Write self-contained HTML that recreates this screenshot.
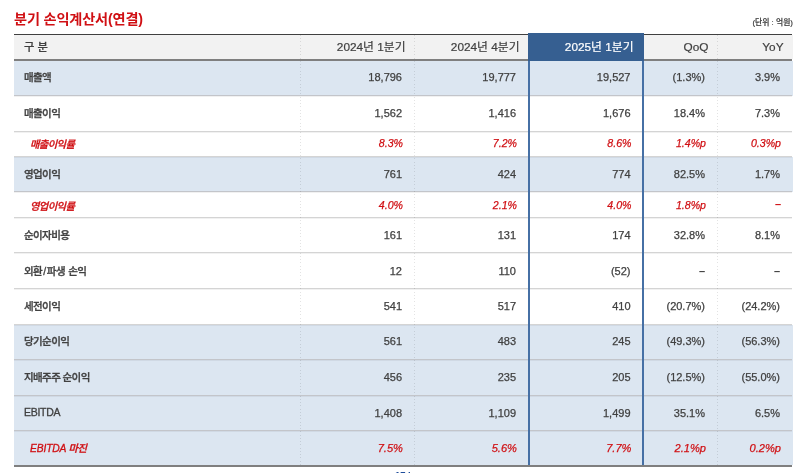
<!DOCTYPE html>
<html lang="ko"><head><meta charset="utf-8"><title>분기 손익계산서(연결)</title>
<style>
html,body{margin:0;padding:0;background:#fff;}
body{width:800px;height:473px;position:relative;overflow:hidden;font-family:"Liberation Sans","Noto Sans CJK KR",sans-serif;color:#404040;}
.abs{position:absolute;}
.title{left:14px;top:8.5px;font-size:14.2px;line-height:20px;font-weight:bold;color:#d01014;letter-spacing:-0.17px;white-space:nowrap;}
.unit{right:7px;top:17px;font-size:7.8px;line-height:12px;color:#404040;letter-spacing:0.02px;white-space:nowrap;font-weight:500;-webkit-text-stroke:0.2px currentColor;}
.row{left:14px;width:779px;}
.b{background:#dce6f1;}
.w{background:#fff;}
.hd{background:#f2f2f2;}
.cell{top:0;bottom:0;white-space:nowrap;font-size:11px;display:flex;align-items:center;justify-content:flex-end;box-sizing:border-box;padding-right:12px;-webkit-text-stroke:0.25px currentColor;}
.cell>span{position:relative;display:block;top:-1px;}
.row .cell>span.d{font-size:11px;top:-1px;font-style:normal;font-weight:bold;-webkit-text-stroke:0;}
.c3{padding-right:13.5px;}
.c0{justify-content:flex-start;padding-left:10px;padding-right:0;font-size:10.5px;letter-spacing:-0.6px;font-weight:500;-webkit-text-stroke:0.3px currentColor;}
.c0>span{top:-1.5px;}
.sl{font-style:normal;margin:0 1.2px;}
.en{font-style:inherit;letter-spacing:-0.3px;font-weight:normal;}
.i .en{letter-spacing:-0.15px;}
.r6 .c0{word-spacing:1px;}
.i{color:#d01014;font-style:italic;}
.i .c0{padding-left:16px;}
.i .cell{-webkit-text-stroke:0.25px currentColor;font-size:10.6px;padding-right:11px;}
.i .c3{padding-right:12.5px;}
.r11 .cell{font-size:11.1px;}
.i .c0{-webkit-text-stroke:0.3px currentColor;font-size:10.3px;padding-right:0;}
.i .cell>span{top:-0.5px;}
.i .c0>span{top:0;}
.row.r11 .c0>span{top:-1px;}
.hd .cell{font-size:11.8px;padding-right:8.5px;-webkit-text-stroke:0.2px currentColor;}
.hd .cell>span{top:-2px;}
.hd .cell>span.lat{top:0;}
.hd .c0{font-size:11.3px;padding-left:10px;letter-spacing:0;}
.hd .c0>span{top:-1px;}
.vl{top:35px;width:1px;height:430px;background:repeating-linear-gradient(to bottom,rgba(0,0,0,0.11) 0,rgba(0,0,0,0.11) 1px,rgba(0,0,0,0) 1px,rgba(0,0,0,0) 3.25px);}
.line{left:14px;width:778px;height:1px;background:rgba(0,0,0,0.15);}
.hl{background:#365f91;}
.hlh{left:528px;top:33px;width:116px;height:28px;display:flex;align-items:center;justify-content:flex-end;box-sizing:border-box;padding-right:10.5px;font-size:11.8px;color:#fff;white-space:nowrap;-webkit-text-stroke:0.2px currentColor;}
.hlh span{position:relative;display:block;top:-1.5px;}
.foot{left:395px;top:468.5px;font-size:9.5px;line-height:12px;color:#1f4e9c;font-weight:bold;white-space:nowrap;}
.foot i{font-style:normal;margin-left:2.4px;}
</style></head><body>
<div class="abs title">분기 손익계산서(연결)</div>
<div class="abs unit">(단위 : 억원)</div>
<div class="abs row hd" style="top:35px;height:24px"><div class="abs cell c0" style="left:0;width:286px"><span>구 분</span></div><div class="abs cell c1" style="left:286px;width:114px"><span>2024년 1분기</span></div><div class="abs cell c2" style="left:400px;width:114px"><span>2024년 4분기</span></div><div class="abs cell c3" style="left:514px;width:116px"><span class="lat"></span></div><div class="abs cell c4" style="left:630px;width:73px"><span class="lat">QoQ</span></div><div class="abs cell c5" style="left:703px;width:75px"><span class="lat">YoY</span></div></div>
<div class="abs row b" style="top:61px;height:35px"></div>
<div class="abs row w" style="top:96px;height:36px"></div>
<div class="abs row w" style="top:132px;height:25px"></div>
<div class="abs row b" style="top:157px;height:35px"></div>
<div class="abs row w" style="top:192px;height:26px"></div>
<div class="abs row w" style="top:218px;height:35px"></div>
<div class="abs row w" style="top:253px;height:36px"></div>
<div class="abs row w" style="top:289px;height:36px"></div>
<div class="abs row b" style="top:325px;height:35px"></div>
<div class="abs row b" style="top:360px;height:36px"></div>
<div class="abs row b" style="top:396px;height:35px"></div>
<div class="abs row b" style="top:431px;height:34px"></div>
<div class="abs line" style="top:95px;background:#c3c5ca;box-shadow:0 1px 0 rgba(60,60,60,0.07)"></div>
<div class="abs line" style="top:131px;background:#d4d4d4;box-shadow:0 1px 0 rgba(60,60,60,0.07)"></div>
<div class="abs line" style="top:156px;background:#d4d4d4;box-shadow:0 1px 0 rgba(60,60,60,0.07)"></div>
<div class="abs line" style="top:191px;background:#c3c5ca;box-shadow:0 1px 0 rgba(60,60,60,0.07)"></div>
<div class="abs line" style="top:217px;background:#d4d4d4;box-shadow:0 1px 0 rgba(60,60,60,0.07)"></div>
<div class="abs line" style="top:252px;background:#d4d4d4;box-shadow:0 1px 0 rgba(60,60,60,0.07)"></div>
<div class="abs line" style="top:288px;background:#d4d4d4;box-shadow:0 1px 0 rgba(60,60,60,0.07)"></div>
<div class="abs line" style="top:324px;background:#d4d4d4;box-shadow:0 1px 0 rgba(60,60,60,0.07)"></div>
<div class="abs line" style="top:359px;background:#c3c5ca;box-shadow:0 1px 0 rgba(60,60,60,0.07)"></div>
<div class="abs line" style="top:395px;background:#c3c5ca;box-shadow:0 1px 0 rgba(60,60,60,0.07)"></div>
<div class="abs line" style="top:430px;background:#c3c5ca;box-shadow:0 1px 0 rgba(60,60,60,0.07)"></div>
<div class="abs vl" style="left:300px"></div>
<div class="abs vl" style="left:414px"></div>
<div class="abs vl" style="left:717px"></div>
<div class="abs row r0" style="top:61px;height:34px"><div class="abs cell c0" style="left:0;width:286px"><span>매출액</span></div><div class="abs cell c1" style="left:286px;width:114px"><span>18,796</span></div><div class="abs cell c2" style="left:400px;width:114px"><span>19,777</span></div><div class="abs cell c3" style="left:514px;width:116px"><span>19,527</span></div><div class="abs cell c4" style="left:630px;width:73px"><span>(1.3%)</span></div><div class="abs cell c5" style="left:703px;width:75px"><span>3.9%</span></div></div>
<div class="abs row r1" style="top:96px;height:35px"><div class="abs cell c0" style="left:0;width:286px"><span>매출이익</span></div><div class="abs cell c1" style="left:286px;width:114px"><span>1,562</span></div><div class="abs cell c2" style="left:400px;width:114px"><span>1,416</span></div><div class="abs cell c3" style="left:514px;width:116px"><span>1,676</span></div><div class="abs cell c4" style="left:630px;width:73px"><span>18.4%</span></div><div class="abs cell c5" style="left:703px;width:75px"><span>7.3%</span></div></div>
<div class="abs row i r2" style="top:131px;height:24px"><div class="abs cell c0" style="left:0;width:286px"><span>매출이익률</span></div><div class="abs cell c1" style="left:286px;width:114px"><span>8.3%</span></div><div class="abs cell c2" style="left:400px;width:114px"><span>7.2%</span></div><div class="abs cell c3" style="left:514px;width:116px"><span>8.6%</span></div><div class="abs cell c4" style="left:630px;width:73px"><span>1.4%p</span></div><div class="abs cell c5" style="left:703px;width:75px"><span>0.3%p</span></div></div>
<div class="abs row r3" style="top:157.5px;height:34px"><div class="abs cell c0" style="left:0;width:286px"><span>영업이익</span></div><div class="abs cell c1" style="left:286px;width:114px"><span>761</span></div><div class="abs cell c2" style="left:400px;width:114px"><span>424</span></div><div class="abs cell c3" style="left:514px;width:116px"><span>774</span></div><div class="abs cell c4" style="left:630px;width:73px"><span>82.5%</span></div><div class="abs cell c5" style="left:703px;width:75px"><span>1.7%</span></div></div>
<div class="abs row i r4" style="top:192.5px;height:25px"><div class="abs cell c0" style="left:0;width:286px"><span>영업이익률</span></div><div class="abs cell c1" style="left:286px;width:114px"><span>4.0%</span></div><div class="abs cell c2" style="left:400px;width:114px"><span>2.1%</span></div><div class="abs cell c3" style="left:514px;width:116px"><span>4.0%</span></div><div class="abs cell c4" style="left:630px;width:73px"><span>1.8%p</span></div><div class="abs cell c5" style="left:703px;width:75px"><span class="d">–</span></div></div>
<div class="abs row r5" style="top:218.5px;height:34px"><div class="abs cell c0" style="left:0;width:286px"><span>순이자비용</span></div><div class="abs cell c1" style="left:286px;width:114px"><span>161</span></div><div class="abs cell c2" style="left:400px;width:114px"><span>131</span></div><div class="abs cell c3" style="left:514px;width:116px"><span>174</span></div><div class="abs cell c4" style="left:630px;width:73px"><span>32.8%</span></div><div class="abs cell c5" style="left:703px;width:75px"><span>8.1%</span></div></div>
<div class="abs row r6" style="top:254px;height:35px"><div class="abs cell c0" style="left:0;width:286px"><span>외환<i class="sl">/</i>파생 손익</span></div><div class="abs cell c1" style="left:286px;width:114px"><span>12</span></div><div class="abs cell c2" style="left:400px;width:114px"><span>110</span></div><div class="abs cell c3" style="left:514px;width:116px"><span>(52)</span></div><div class="abs cell c4" style="left:630px;width:73px"><span class="d">–</span></div><div class="abs cell c5" style="left:703px;width:75px"><span class="d">–</span></div></div>
<div class="abs row r7" style="top:289.5px;height:35px"><div class="abs cell c0" style="left:0;width:286px"><span>세전이익</span></div><div class="abs cell c1" style="left:286px;width:114px"><span>541</span></div><div class="abs cell c2" style="left:400px;width:114px"><span>517</span></div><div class="abs cell c3" style="left:514px;width:116px"><span>410</span></div><div class="abs cell c4" style="left:630px;width:73px"><span>(20.7%)</span></div><div class="abs cell c5" style="left:703px;width:75px"><span>(24.2%)</span></div></div>
<div class="abs row r8" style="top:324.5px;height:34px"><div class="abs cell c0" style="left:0;width:286px"><span>당기순이익</span></div><div class="abs cell c1" style="left:286px;width:114px"><span>561</span></div><div class="abs cell c2" style="left:400px;width:114px"><span>483</span></div><div class="abs cell c3" style="left:514px;width:116px"><span>245</span></div><div class="abs cell c4" style="left:630px;width:73px"><span>(49.3%)</span></div><div class="abs cell c5" style="left:703px;width:75px"><span>(56.3%)</span></div></div>
<div class="abs row r9" style="top:360px;height:35px"><div class="abs cell c0" style="left:0;width:286px"><span>지배주주 순이익</span></div><div class="abs cell c1" style="left:286px;width:114px"><span>456</span></div><div class="abs cell c2" style="left:400px;width:114px"><span>235</span></div><div class="abs cell c3" style="left:514px;width:116px"><span>205</span></div><div class="abs cell c4" style="left:630px;width:73px"><span>(12.5%)</span></div><div class="abs cell c5" style="left:703px;width:75px"><span>(55.0%)</span></div></div>
<div class="abs row r10" style="top:396.5px;height:34px"><div class="abs cell c0" style="left:0;width:286px"><span><i class="en">EBITDA</i></span></div><div class="abs cell c1" style="left:286px;width:114px"><span>1,408</span></div><div class="abs cell c2" style="left:400px;width:114px"><span>1,109</span></div><div class="abs cell c3" style="left:514px;width:116px"><span>1,499</span></div><div class="abs cell c4" style="left:630px;width:73px"><span>35.1%</span></div><div class="abs cell c5" style="left:703px;width:75px"><span>6.5%</span></div></div>
<div class="abs row i r11" style="top:431px;height:34px"><div class="abs cell c0" style="left:0;width:286px"><span><i class="en">EBITDA</i> 마진</span></div><div class="abs cell c1" style="left:286px;width:114px"><span>7.5%</span></div><div class="abs cell c2" style="left:400px;width:114px"><span>5.6%</span></div><div class="abs cell c3" style="left:514px;width:116px"><span>7.7%</span></div><div class="abs cell c4" style="left:630px;width:73px"><span>2.1%p</span></div><div class="abs cell c5" style="left:703px;width:75px"><span>0.2%p</span></div></div>
<div class="abs line" style="top:34px;background:#404040"></div>
<div class="abs line" style="top:59px;height:2px;background:#7f7f7f"></div>
<div class="abs line" style="top:465px;height:2px;background:#7f7f7f"></div>
<div class="abs hl hlh"><span>2025년 1분기</span></div>
<div class="abs" style="left:528px;top:61px;width:2px;height:404px;background:#4670a5"></div>
<div class="abs" style="left:642px;top:61px;width:2px;height:404px;background:#4670a5"></div>
<div class="abs foot">17<i>I</i></div>
</body></html>
